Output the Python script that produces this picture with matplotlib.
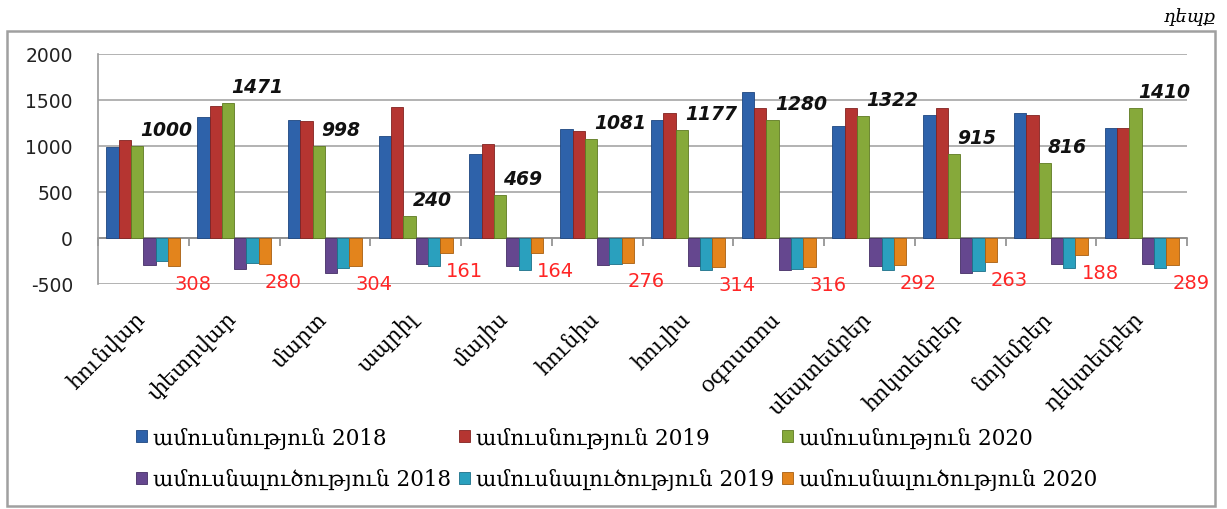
import matplotlib
matplotlib.use('Agg')
import matplotlib.pyplot as plt
import matplotlib.transforms as mtransforms
from matplotlib.patches import Rectangle
import numpy as np

# ---------------- data ----------------
months = ['հունվար', 'փետրվար', 'մարտ', 'ապրիլ', 'մայիս', 'հունիս',
          'հուլիս', 'օգոստոս', 'սեպտեմբեր', 'հոկտեմբեր', 'նոյեմբեր', 'դեկտեմբեր']
marriages_2018 = [985, 1310, 1278, 1112, 914, 1184, 1278, 1591, 1217, 1339, 1361, 1195]
marriages_2019 = [1070, 1440, 1267, 1425, 1022, 1163, 1354, 1415, 1411, 1411, 1339, 1195]
marriages_2020 = [1000, 1471, 998, 240, 469, 1081, 1177, 1280, 1322, 915, 816, 1410]
divorces_2018 = [298, 332, 375, 280, 305, 298, 305, 350, 305, 375, 280, 280]
divorces_2019 = [245, 270, 322, 305, 350, 280, 350, 332, 350, 360, 325, 325]
divorces_2020 = [308, 280, 304, 161, 164, 276, 314, 316, 292, 263, 188, 289]
series_labels = ['ամուսնություն 2018', 'ամուսնություն 2019', 'ամուսնություն 2020',
                 'ամուսնալուծություն 2018', 'ամուսնալուծություն 2019', 'ամուսնալուծություն 2020']
y_ticks = [-500, 0, 500, 1000, 1500, 2000]
unit_label = 'դեպք'

# ---------------- style ----------------
colors = ['#2E62AA', '#B53531', '#86A93A', '#65478F', '#2AA0BE', '#E3841C']
edge_colors = ['#1E4680', '#822220', '#5E7A22', '#452F66', '#1C7088', '#A85E10']
serif = ['DejaVu Serif', 'DejaVu Sans']

W, H = 1227, 510
fig = plt.figure(figsize=(W / 100, H / 100), dpi=100)
fig.patch.set_facecolor('white')

ax_left, ax_right, ax_top, ax_bottom = 98, 1187, 55, 285
ax = fig.add_axes([ax_left / W, 1 - ax_bottom / H, (ax_right - ax_left) / W, (ax_bottom - ax_top) / H])

x = np.arange(len(months))
bw = 0.1355
all_series = [marriages_2018, marriages_2019, marriages_2020,
              [-v for v in divorces_2018], [-v for v in divorces_2019], [-v for v in divorces_2020]]
handles = []
for k, vals in enumerate(all_series):
    h = ax.bar(x + (k - 2.5) * bw, vals, width=bw, color=colors[k], edgecolor=edge_colors[k],
               linewidth=0.6, zorder=3, label=series_labels[k])
    handles.append(h)

ax.set_xlim(-0.5, len(months) - 0.5)
ax.set_ylim(-500, 2000)
ax.set_yticks(y_ticks)
ax.set_yticklabels([str(t) for t in y_ticks])
ax.tick_params(axis='y', length=0, pad=18, labelsize=13.5, labelcolor='#222222')
ax.yaxis.grid(True, color='#a6a6a6', linewidth=1.2, zorder=0)
ax.set_axisbelow(True)

for s in ['top', 'right']:
    ax.spines[s].set_visible(False)
ax.spines['left'].set_color('#9a9a9a')
ax.spines['left'].set_linewidth(1.2)
ax.spines['bottom'].set_position(('data', 0))
ax.spines['bottom'].set_color('#8c8c8c')
ax.spines['bottom'].set_linewidth(1.2)
ax.spines['bottom'].set_zorder(2)

ax.set_xticks(x)
ax.set_xticks(np.arange(-0.5, len(months), 1.0), minor=True)
ax.tick_params(axis='x', which='minor', length=6, width=1.2, color='#8c8c8c', direction='out')
ax.tick_params(axis='x', which='major', length=0, pad=50)
ax.set_xticklabels(months, fontsize=15.5, family=serif)
offset = mtransforms.ScaledTranslation(-0.09, 0, fig.dpi_scale_trans)
for lab in ax.get_xticklabels():
    lab.set_rotation(45)
    lab.set_ha('right')
    lab.set_va('top')
    lab.set_rotation_mode('anchor')
    lab.set_transform(lab.get_transform() + offset)

# value labels
for i, v in enumerate(marriages_2020):
    ax.annotate(str(v), xy=(x[i] - 0.5 * bw, v), xytext=(3, 7), textcoords='offset pixels',
                ha='left', va='bottom', fontsize=13.5, fontweight='bold', fontstyle='italic',
                color='#111111', zorder=5)
for i, v in enumerate(divorces_2020):
    ax.annotate(str(v), xy=(x[i] + 2.5 * bw, -v), xytext=(0, -8), textcoords='offset pixels',
                ha='left', va='top', fontsize=14, color='#FF2626', zorder=5)

# legend (row-wise order)
order = [0, 3, 1, 4, 2, 5]
leg = fig.legend([handles[i] for i in order], [series_labels[i] for i in order],
                 ncol=3, loc='upper left', bbox_to_anchor=(136 / W, 1 - 428 / H),
                 frameon=False, prop={'family': serif, 'size': 15.5},
                 handlelength=0.5, handleheight=0.5, handletextpad=0.3,
                 columnspacing=0.35, labelspacing=0.9, borderpad=0, borderaxespad=0)

# unit label and outer frame
fig.text(1216 / W, 1 - 17 / H, unit_label, ha='right', va='center', fontsize=13,
         fontstyle='italic', family=serif)
fig.patches.append(Rectangle((7 / W, 3 / H), (1215 - 7) / W, (507 - 32) / H,
                             transform=fig.transFigure, fill=False,
                             edgecolor='#a0a0a0', linewidth=1.8))

fig.savefig('out.png', dpi=100)
